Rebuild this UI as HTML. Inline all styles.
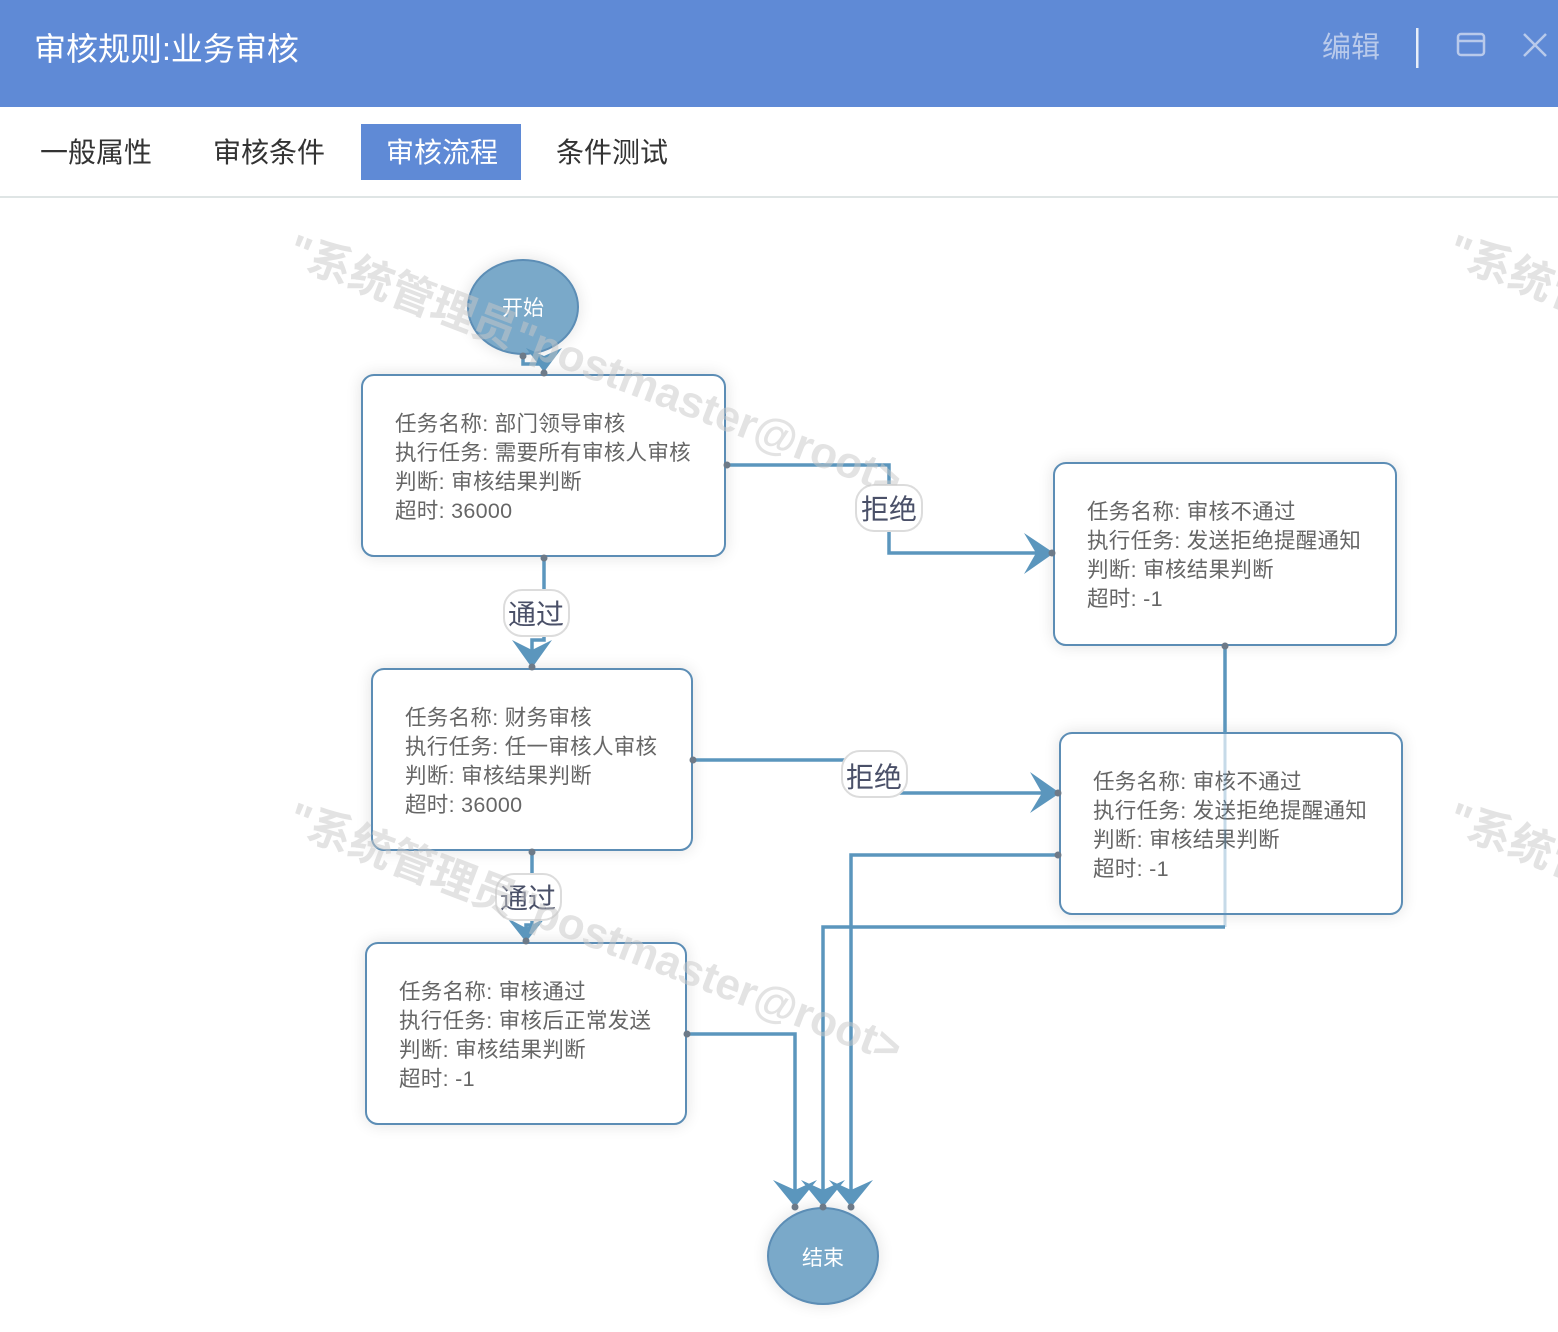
<!DOCTYPE html>
<html><head><meta charset="utf-8"><style>
html,body{margin:0;padding:0;background:#fff;}
svg{display:block;}
text{font-family:"Liberation Sans","Noto Sans CJK SC",sans-serif;}
</style></head><body>
<svg width="1558" height="1332" viewBox="0 0 1558 1332" xmlns="http://www.w3.org/2000/svg">
<defs>
<filter id="sh" x="-20%" y="-20%" width="140%" height="140%"><feGaussianBlur in="SourceAlpha" stdDeviation="8"/><feComponentTransfer><feFuncA type="linear" slope="0.12"/></feComponentTransfer><feMerge><feMergeNode/><feMergeNode in="SourceGraphic"/></feMerge></filter>
</defs>
<rect x="0" y="0" width="1558" height="107" fill="#5f8ad6"/>
<text x="34" y="60" font-size="32" fill="#fff">审核规则:业务审核</text>
<text x="1322" y="57" font-size="29" fill="#b9caeb">编辑</text>
<rect x="1416" y="28" width="2.5" height="40" fill="#e8eef8"/>
<rect x="1458" y="34" width="26" height="21" rx="3" fill="none" stroke="#b9caeb" stroke-width="2.5"/>
<line x1="1458" y1="41" x2="1484" y2="41" stroke="#b9caeb" stroke-width="2.5"/>
<path d="M1524 34 L1546 56 M1546 34 L1524 56" stroke="#b9caeb" stroke-width="2.5"/>
<text x="40" y="162" font-size="28" fill="#333">一般属性</text>
<text x="213" y="162" font-size="28" fill="#333">审核条件</text>
<rect x="361" y="124" width="160" height="56" fill="#5f8ad6"/>
<text x="386" y="162" font-size="28" fill="#fff">审核流程</text>
<text x="556" y="162" font-size="28" fill="#333">条件测试</text>
<rect x="0" y="196" width="1558" height="2" fill="#dfe5e5"/>
<g filter="url(#sh)" stroke="#5b8db5" stroke-width="2">
<ellipse cx="523" cy="307" rx="55" ry="47" fill="#7aa9c9"/>
<ellipse cx="823" cy="1256" rx="55" ry="48" fill="#7aa9c9"/>
<rect x="362" y="375" width="363" height="181" rx="12" fill="#fff"/>
<rect x="1054" y="463" width="342" height="182" rx="12" fill="#fff"/>
<rect x="372" y="669" width="320" height="181" rx="12" fill="#fff"/>
<rect x="1060" y="733" width="342" height="181" rx="12" fill="#fff"/>
<rect x="366" y="943" width="320" height="181" rx="12" fill="#fff"/>
</g>
<text x="523" y="315" font-size="21" fill="#fff" text-anchor="middle">开始</text>
<text x="823" y="1265" font-size="21" fill="#fff" text-anchor="middle">结束</text>
<g font-size="21.5" fill="#666" letter-spacing="0.3">
<text x="395" y="431">任务名称: 部门领导审核</text>
<text x="395" y="460">执行任务: 需要所有审核人审核</text>
<text x="395" y="489">判断: 审核结果判断</text>
<text x="395" y="518">超时: 36000</text>
<text x="1087" y="519">任务名称: 审核不通过</text>
<text x="1087" y="548">执行任务: 发送拒绝提醒通知</text>
<text x="1087" y="577">判断: 审核结果判断</text>
<text x="1087" y="606">超时: -1</text>
<text x="405" y="725">任务名称: 财务审核</text>
<text x="405" y="754">执行任务: 任一审核人审核</text>
<text x="405" y="783">判断: 审核结果判断</text>
<text x="405" y="812">超时: 36000</text>
<text x="1093" y="789">任务名称: 审核不通过</text>
<text x="1093" y="818">执行任务: 发送拒绝提醒通知</text>
<text x="1093" y="847">判断: 审核结果判断</text>
<text x="1093" y="876">超时: -1</text>
<text x="399" y="999">任务名称: 审核通过</text>
<text x="399" y="1028">执行任务: 审核后正常发送</text>
<text x="399" y="1057">判断: 审核结果判断</text>
<text x="399" y="1086">超时: -1</text>
</g>
<g fill="none" stroke="#5b96bd" stroke-width="3.5">
<path d="M523 355 V364 H544 V372"/>
<path d="M725 465 H889 V553 H1040"/>
<path d="M544 557 V640 H532 V650"/>
<path d="M692 760 H874 V793 H1045"/>
<path d="M532 851 V925 H526 V930"/>
<path d="M686 1034 H795 V1195"/>
<path d="M1060 855 H851 V1195"/>
<path d="M823 1195 V927 H1225"/>
<path d="M1225 645 V733"/>
</g>
<path d="M1225 733 V927" fill="none" stroke="#5b96bd" stroke-width="3" stroke-opacity="0.35"/>
<g fill="#5b96bd">
<path d="M544 372 L526 348 L544 356 L562 348 Z"/>
<path d="M532 668 L512 640 L532 650 L552 640 Z"/>
<path d="M1054 553 L1024 533 L1036 553 L1024 574 Z"/>
<path d="M1060 793 L1030 772 L1042 793 L1030 813 Z"/>
<path d="M526 942 L507 918 L526 928 L545 918 Z"/>
<path d="M795 1207 L773 1180 L795 1190 L817 1180 Z"/>
<path d="M823 1207 L801 1180 L823 1190 L845 1180 Z"/>
<path d="M851 1207 L829 1180 L851 1190 L873 1180 Z"/>
</g>
<g fill="#6d7a88">
<circle cx="523" cy="356" r="3.5"/><circle cx="544" cy="373" r="3.5"/>
<circle cx="727" cy="465" r="3.5"/><circle cx="1052" cy="553" r="3.5"/>
<circle cx="544" cy="558" r="3.5"/><circle cx="532" cy="667" r="3.5"/>
<circle cx="693" cy="760" r="3.5"/><circle cx="1058" cy="793" r="3.5"/>
<circle cx="532" cy="852" r="3.5"/><circle cx="526" cy="941" r="3.5"/>
<circle cx="687" cy="1034" r="3.5"/><circle cx="1058" cy="855" r="3.5"/>
<circle cx="1225" cy="646" r="3.5"/>
<circle cx="795" cy="1207" r="3.5"/><circle cx="823" cy="1207" r="3.5"/><circle cx="851" cy="1207" r="3.5"/>
</g>
<g fill="#fff" stroke="#dcdcdc" stroke-width="2">
<rect x="856" y="485" width="66" height="46" rx="18"/>
<rect x="504" y="590" width="65" height="46" rx="18"/>
<rect x="842" y="751" width="65" height="46" rx="18"/>
<rect x="496" y="874" width="65" height="46" rx="18"/>
</g>
<g font-size="28" fill="#4a5068" text-anchor="middle">
<text x="889" y="519">拒绝</text>
<text x="536" y="624">通过</text>
<text x="874" y="787">拒绝</text>
<text x="528" y="908">通过</text>
</g>
<g fill="#c8c8c8" fill-opacity="0.5" font-size="44" font-weight="bold">
<text transform="translate(285,262) rotate(21)">"系统管理员"postmaster@root&gt;</text>
<text transform="translate(285,830) rotate(21)">"系统管理员"postmaster@root&gt;</text>
<text transform="translate(1445,262) rotate(21)">"系统管理员"postmaster@root&gt;</text>
<text transform="translate(1445,830) rotate(21)">"系统管理员"postmaster@root&gt;</text>
</g>
</svg>
</body></html>
